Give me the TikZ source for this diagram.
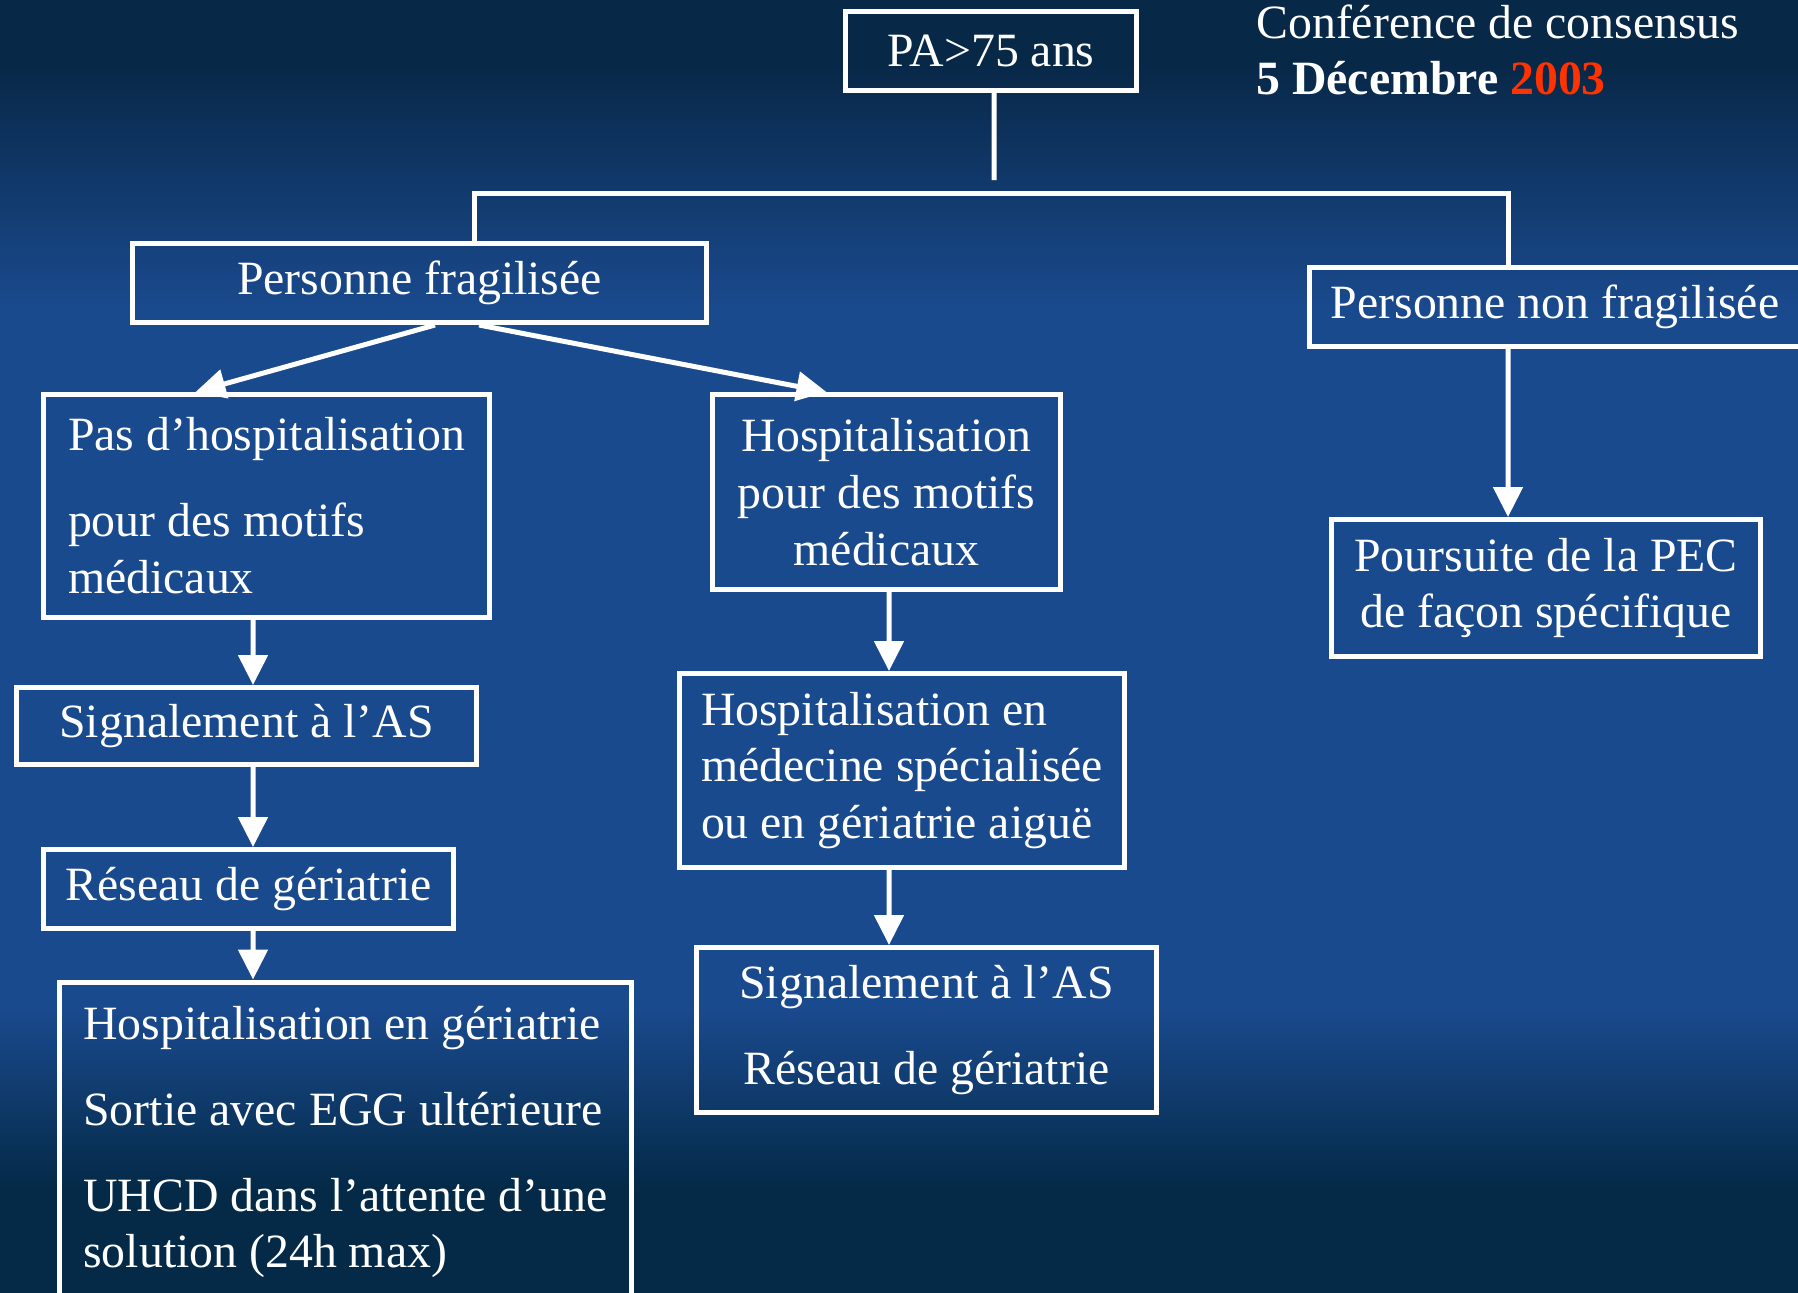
\documentclass[tikz,border=0pt]{standalone}
\usepackage{fontspec}
\setmainfont{Liberation Serif}
\usepackage{tikz}
\usetikzlibrary{arrows.meta}
\definecolor{bgtop}{RGB}{8,40,72}
\definecolor{bgmid}{RGB}{26,74,142}
\definecolor{bgbot}{RGB}{4,42,72}
\definecolor{yearred}{RGB}{255,51,0}
% the picture is fitted to the middle 50bp of the shading
\pgfdeclareverticalshading{slidebg}{100bp}{color(0bp)=(bgbot); color(25bp)=(bgbot); color(29bp)=(bgbot); color(36bp)=(bgmid); color(63bp)=(bgmid); color(72.5bp)=(bgtop); color(75bp)=(bgtop); color(100bp)=(bgtop)}
\newcommand{\slidefont}{\fontsize{27.2pt}{32.4pt}\selectfont}

\begin{document}
\begin{tikzpicture}[x=0.02cm,y=-0.02cm,
  box/.style={draw=white,line width=0.1cm,text=white,font=\slidefont,inner sep=0pt,align=center},
  lbox/.style={box,align=left},
  link/.style={white,line width=0.1cm},
  arr/.style={link,-{Triangle[width=0.58cm,length=0.6cm]}}]
  \useasboundingbox (0,0) rectangle (1798,1292);
  \clip (0,0) rectangle (1798,1292);
  \shade[shading=slidebg] (0,0) rectangle (1798,1292);

  % top of the tree
  \node[box,minimum width=5.82cm,minimum height=1.58cm] (pa) at (991,51) {PA>75 ans};
  \node[anchor=north west,align=left,text=white,font=\slidefont,inner sep=0pt] (conf) at (1256,4)
    {Conférence de consensus\\\textbf{5 Décembre \textcolor{yearred}{2003}}};
  \node[box,minimum width=11.48cm,minimum height=1.58cm] (pf) at (419.5,283) {Personne fragilisée};
  \node[box,minimum width=9.82cm,minimum height=1.58cm] (pnf) at (1555,307) {Personne non fragilisée};

  % left branch
  \node[lbox,minimum width=8.92cm,minimum height=4.46cm] (pas) at (266.5,506)
    {Pas d’hospitalisation\\[0.58cm]pour des motifs\\médicaux};
  \node[box,minimum width=9.2cm,minimum height=1.54cm] (sig1) at (246.5,726) {Signalement à l’AS};
  \node[box,minimum width=8.2cm,minimum height=1.58cm] (res1) at (248.5,889) {Réseau de gériatrie};
  \node[lbox,minimum width=11.44cm,minimum height=6.4cm] (hg) at (345.5,1142)
    {Hospitalisation en gériatrie\\[0.58cm]Sortie avec EGG ultérieure\\[0.58cm]UHCD dans l’attente d’une\\solution (24h max)};

  % middle branch
  \node[box,minimum width=6.96cm,minimum height=3.9cm] (hm) at (886.5,492)
    {Hospitalisation\\pour des motifs\\médicaux};
  \node[lbox,minimum width=8.9cm,minimum height=3.88cm] (hms) at (902,770.5)
    {Hospitalisation en\\médecine spécialisée\\ou en gériatrie aiguë};
  \node[box,minimum width=9.2cm,minimum height=3.3cm] (sig2) at (926.5,1030)
    {Signalement à l’AS\\[0.58cm]Réseau de gériatrie};

  % right branch
  \node[box,minimum width=8.58cm,minimum height=2.74cm] (pec) at (1546,588)
    {Poursuite de la PEC\\de façon spécifique};

  \coordinate (split) at (994,180);
  \coordinate (bar) at (994,193);
  \draw[link] ([xshift=0.06cm]pa.south) -- (split);
  \draw[link,line join=miter] ([xshift=1.11cm]pf.north) |- (bar) -| ([xshift=-0.94cm]pnf.north);

  \draw[arr] ([xshift=0.31cm]pf.south) -- ([xshift=-1.42cm]pas.north);
  \draw[arr] ([xshift=1.19cm]pf.south) -- ([xshift=-1.2cm]hm.north);
  \foreach \a/\b/\s/\t in {pas/sig1/-0.27/0.13, sig1/res1/0.13/0.09, res1/hg/0.09/-1.85,
                          hm/hms/0.05/-0.26, hms/sig2/-0.26/-0.75, pnf/pec/-0.94/-0.76}
    \draw[arr] ([xshift=\s cm]\a.south) -- ([xshift=\t cm]\b.north);
\end{tikzpicture}
\end{document}
